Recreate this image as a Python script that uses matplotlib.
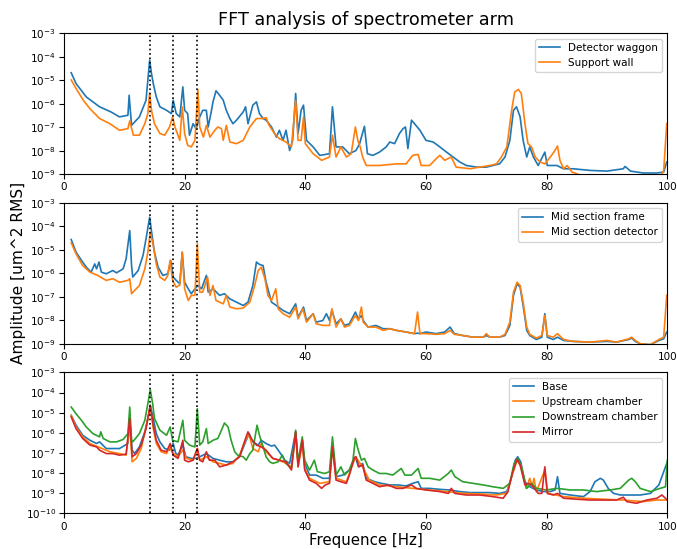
import numpy as np
import matplotlib
matplotlib.use('Agg')
import matplotlib.pyplot as plt
from matplotlib.ticker import NullLocator, LogLocator

# spectra: (frequency [Hz], log10 amplitude [um^2 RMS])
detector_waggon = [
    (1.2, -4.68), (2.0, -5.14), (3.7, -5.71), (5.9, -6.13), (7.8, -6.35), (9.2, -6.56), (10.6, -6.49),
    (10.8, -5.64), (11.2, -6.92), (12.5, -6.56), (13.6, -5.85), (14.2, -4.14), (14.5, -4.71), (14.8, -5.14),
    (15.3, -5.71), (15.9, -6.13), (17.0, -6.28), (17.8, -6.42), (18.1, -5.85), (18.6, -6.42), (19.2, -6.56),
    (19.7, -5.28), (20.0, -6.28), (20.5, -6.42), (20.8, -7.34), (21.4, -6.85), (21.9, -7.06), (22.5, -6.56),
    (23.0, -6.28), (23.6, -6.28), (23.9, -6.99), (24.4, -6.35), (24.7, -5.92), (25.2, -5.45), (25.8, -5.64),
    (26.4, -5.85), (26.9, -6.28), (27.5, -6.63), (28.0, -6.85), (28.6, -6.70), (29.7, -6.35), (30.1, -6.13),
    (30.5, -6.85), (31.3, -6.06), (31.9, -5.92), (32.4, -6.42), (33.0, -6.63), (33.5, -6.70), (34.4, -6.99),
    (35.2, -7.42), (35.7, -7.13), (36.3, -7.56), (36.8, -7.13), (37.4, -7.99), (37.9, -7.56), (38.4, -5.56),
    (38.8, -7.27), (39.3, -6.28), (39.7, -6.06), (40.2, -7.56), (41.3, -7.84), (42.4, -8.20), (44.0, -8.13),
    (44.5, -6.13), (45.1, -7.84), (46.2, -7.84), (47.3, -8.13), (48.4, -7.99), (49.0, -7.70), (49.8, -6.96),
    (50.3, -8.13), (51.2, -8.20), (52.3, -8.06), (53.4, -7.84), (54.0, -7.63), (54.8, -7.70), (55.6, -7.27),
    (56.2, -7.06), (56.6, -6.99), (57.0, -7.91), (57.6, -6.70), (58.1, -6.85), (59.0, -7.13), (60.0, -7.56),
    (61.2, -7.63), (62.3, -7.84), (63.4, -8.06), (64.5, -8.27), (65.6, -8.48), (66.7, -8.63), (68.4, -8.70),
    (70.0, -8.70), (71.1, -8.63), (72.2, -8.56), (73.1, -8.27), (73.9, -7.56), (74.5, -6.28), (75.0, -6.13),
    (75.6, -6.56), (76.1, -7.56), (76.7, -8.27), (77.2, -7.84), (77.8, -8.27), (78.6, -8.63), (79.7, -8.06),
    (80.1, -8.63), (81.7, -8.63), (82.8, -8.77), (84.4, -8.77), (87.2, -8.84), (90.0, -8.87), (92.7, -8.77),
    (93.0, -8.67), (93.9, -8.87), (96.0, -8.95), (98.3, -8.95), (99.4, -8.91), (99.9, -8.48),
]
support_wall = [
    (1.2, -4.99), (2.0, -5.35), (3.2, -5.85), (4.3, -6.21), (5.9, -6.63), (7.6, -6.85), (9.2, -7.13),
    (10.6, -7.06), (10.9, -6.73), (11.5, -7.34), (12.5, -7.34), (13.4, -6.85), (13.9, -6.42), (14.2, -5.54),
    (14.5, -6.28), (15.0, -6.85), (15.9, -7.27), (16.7, -7.34), (17.5, -6.99), (18.0, -6.56), (18.4, -6.99),
    (19.2, -7.56), (19.6, -6.13), (20.0, -7.27), (20.5, -7.77), (21.1, -7.84), (21.7, -7.56), (22.2, -5.40),
    (22.5, -6.99), (23.1, -7.42), (23.6, -6.92), (24.2, -7.42), (25.0, -7.13), (25.5, -6.99), (26.1, -7.06),
    (26.4, -7.56), (26.9, -6.92), (27.5, -7.63), (28.6, -7.70), (29.7, -7.56), (30.8, -6.99), (31.9, -6.63),
    (33.0, -6.63), (33.5, -6.59), (34.0, -6.92), (34.9, -7.27), (35.7, -7.49), (36.8, -7.63), (37.7, -7.84),
    (38.4, -5.85), (38.8, -7.56), (39.3, -7.56), (39.7, -6.56), (40.0, -7.70), (41.3, -8.13), (42.7, -8.41),
    (44.0, -8.27), (44.5, -7.34), (45.1, -8.27), (45.9, -7.84), (46.8, -8.27), (47.6, -8.13), (48.3, -6.99),
    (48.7, -7.56), (49.1, -7.84), (49.5, -8.27), (50.1, -8.63), (52.3, -8.63), (55.1, -8.56), (56.7, -8.56),
    (57.8, -8.20), (58.7, -8.16), (59.2, -8.63), (60.6, -8.63), (61.7, -8.34), (62.3, -8.20), (63.1, -8.41),
    (64.2, -8.27), (65.0, -8.70), (67.3, -8.77), (68.9, -8.70), (70.6, -8.63), (71.7, -8.56), (72.5, -8.27),
    (73.4, -7.84), (74.2, -6.28), (74.7, -5.50), (75.3, -5.39), (75.8, -5.56), (76.4, -6.85), (76.9, -7.70),
    (77.5, -7.84), (78.1, -8.27), (78.9, -8.48), (79.7, -8.56), (80.6, -8.27), (81.2, -8.06), (81.8, -7.80),
    (82.2, -8.41), (82.8, -8.77), (83.4, -8.63), (84.2, -8.91), (85.0, -8.98), (85.5, -9.05), (86.5, -9.30),
    (98.5, -9.30), (99.4, -8.84), (99.9, -6.85),
]
mid_frame = [
    (1.2, -4.56), (2.0, -5.10), (2.9, -5.45), (3.7, -5.74), (4.5, -5.95), (5.1, -5.60), (5.4, -5.81),
    (5.8, -5.52), (6.2, -5.95), (7.0, -6.02), (8.1, -5.88), (8.7, -5.98), (9.8, -5.81), (10.3, -5.38),
    (10.9, -4.18), (11.2, -5.67), (11.4, -6.16), (12.3, -5.88), (13.1, -5.24), (13.6, -4.53), (14.2, -3.61),
    (14.6, -4.39), (15.0, -5.10), (15.6, -5.74), (16.4, -6.09), (17.2, -6.02), (17.7, -5.45), (18.1, -6.16),
    (18.6, -6.30), (19.2, -6.45), (19.6, -5.10), (20.0, -6.38), (20.6, -6.66), (21.1, -6.87), (21.7, -6.66),
    (22.2, -6.52), (22.8, -6.66), (23.6, -6.09), (23.9, -6.80), (24.7, -6.66), (25.8, -6.94), (26.6, -6.87),
    (27.5, -7.09), (28.6, -7.23), (29.7, -7.37), (30.5, -7.23), (31.3, -6.52), (31.9, -5.52), (32.4, -5.62),
    (33.0, -5.67), (33.5, -6.38), (34.4, -7.23), (35.2, -7.37), (36.3, -7.58), (37.4, -7.72), (38.4, -7.30),
    (38.8, -7.87), (39.7, -7.44), (40.2, -8.01), (41.3, -7.72), (41.8, -8.08), (42.9, -8.01), (43.5, -7.72),
    (44.0, -8.01), (44.4, -7.58), (45.1, -8.15), (45.9, -7.94), (46.5, -8.22), (47.3, -8.15), (48.3, -7.65),
    (48.8, -7.94), (49.3, -7.80), (49.6, -8.01), (50.4, -8.29), (51.7, -8.22), (52.9, -8.36), (54.0, -8.36),
    (55.1, -8.43), (56.7, -8.50), (58.1, -8.57), (58.6, -8.55), (59.0, -8.57), (60.0, -8.50), (61.7, -8.57),
    (63.1, -8.50), (64.0, -8.29), (64.7, -8.57), (66.1, -8.65), (67.8, -8.72), (69.5, -8.72), (70.0, -8.65),
    (70.6, -8.72), (72.2, -8.72), (73.1, -8.65), (73.9, -8.22), (74.5, -6.94), (75.1, -6.45), (75.6, -6.59),
    (76.1, -7.37), (76.7, -8.43), (77.2, -8.65), (78.3, -8.82), (79.2, -8.72), (79.7, -7.72), (80.1, -8.72),
    (81.1, -8.82), (81.8, -8.72), (82.8, -8.86), (84.4, -8.90), (87.2, -8.93), (90.0, -8.90), (91.6, -8.93),
    (93.6, -8.82), (94.1, -8.76), (94.7, -8.90), (95.5, -9.00), (97.2, -9.04), (98.6, -8.86), (99.4, -8.79),
    (99.9, -8.50),
]
mid_detector = [
    (1.2, -4.70), (2.0, -5.17), (3.1, -5.67), (4.3, -5.95), (5.6, -6.09), (7.0, -6.30), (8.1, -6.23),
    (9.2, -6.38), (10.6, -6.30), (10.9, -6.23), (11.2, -6.87), (11.7, -6.73), (12.5, -6.52), (13.4, -5.81),
    (13.9, -5.10), (14.3, -4.25), (14.8, -4.82), (15.3, -5.60), (15.9, -6.16), (16.7, -6.30), (17.2, -6.09),
    (17.6, -5.45), (18.0, -6.30), (18.6, -6.59), (19.2, -6.50), (19.6, -5.10), (20.0, -6.66), (20.6, -7.16),
    (21.1, -6.94), (21.7, -6.94), (22.1, -4.74), (22.5, -6.80), (23.0, -6.80), (23.8, -6.16), (24.2, -6.94),
    (24.7, -6.52), (25.2, -7.16), (26.4, -7.30), (26.9, -6.94), (27.5, -7.44), (28.6, -7.51), (29.7, -7.48),
    (30.8, -7.23), (31.6, -6.52), (32.2, -5.88), (32.7, -5.74), (33.3, -6.23), (33.8, -6.94), (34.4, -7.16),
    (35.1, -6.66), (35.5, -7.51), (36.3, -7.72), (37.4, -7.87), (38.4, -7.44), (38.8, -7.94), (39.6, -7.51),
    (40.2, -8.08), (41.3, -7.72), (41.8, -8.15), (42.9, -8.22), (44.0, -8.22), (44.4, -7.51), (45.1, -8.29),
    (45.9, -7.94), (46.5, -8.29), (47.3, -8.22), (48.3, -7.80), (48.8, -8.01), (49.3, -7.44), (49.6, -8.08),
    (50.4, -8.29), (51.7, -8.29), (52.9, -8.43), (54.0, -8.36), (55.1, -8.43), (56.7, -8.50), (58.1, -8.57),
    (58.6, -7.65), (59.0, -8.57), (60.0, -8.57), (61.7, -8.60), (63.1, -8.57), (64.0, -8.43), (64.7, -8.60),
    (66.1, -8.65), (67.8, -8.72), (69.5, -8.72), (70.0, -8.57), (70.6, -8.72), (72.2, -8.72), (73.1, -8.60),
    (73.9, -8.08), (74.5, -6.80), (75.1, -6.38), (75.6, -6.52), (76.1, -7.23), (76.7, -8.29), (77.2, -8.60),
    (78.3, -8.76), (79.2, -8.65), (79.7, -7.80), (80.1, -8.65), (81.1, -8.72), (81.8, -8.57), (82.8, -8.82),
    (84.4, -8.90), (87.2, -8.93), (90.0, -8.86), (91.6, -8.93), (93.6, -8.79), (94.1, -8.72), (94.7, -8.86),
    (95.5, -9.00), (97.2, -9.04), (98.6, -8.82), (99.4, -8.72), (99.9, -6.94),
]
base = [
    (1.2, -5.13), (2.0, -5.62), (3.1, -6.12), (4.3, -6.37), (5.4, -6.53), (5.9, -6.45), (7.0, -6.78),
    (8.1, -6.78), (9.2, -6.78), (10.6, -6.53), (10.9, -5.29), (11.3, -6.86), (11.7, -7.03), (12.5, -6.70),
    (13.4, -5.95), (13.9, -5.29), (14.3, -4.63), (14.8, -5.29), (15.3, -6.04), (15.9, -6.45), (16.7, -6.78),
    (17.5, -6.86), (18.1, -6.53), (18.5, -7.00), (18.9, -7.11), (19.7, -6.61), (20.2, -7.19), (21.1, -7.27),
    (21.9, -7.27), (22.5, -7.19), (23.6, -7.03), (24.7, -7.27), (25.8, -7.36), (26.9, -7.44), (28.0, -7.44),
    (29.1, -7.19), (30.2, -6.37), (30.7, -6.04), (31.3, -6.45), (32.2, -6.61), (32.7, -6.37), (33.5, -6.53),
    (34.4, -6.66), (34.9, -6.61), (35.7, -6.94), (36.6, -7.36), (37.4, -7.52), (38.4, -5.95), (38.8, -7.52),
    (39.5, -6.37), (39.9, -7.52), (40.7, -8.10), (41.8, -8.10), (42.9, -8.26), (44.0, -8.26), (44.5, -6.61),
    (45.1, -8.18), (46.2, -8.10), (47.3, -7.85), (48.3, -7.19), (48.8, -7.69), (49.5, -7.52), (50.1, -8.26),
    (51.5, -8.43), (52.6, -8.51), (54.0, -8.59), (55.3, -8.59), (56.7, -8.64), (57.8, -8.51), (58.7, -8.43),
    (59.2, -8.76), (60.6, -8.76), (62.3, -8.81), (63.9, -8.84), (65.6, -8.92), (67.3, -8.97), (68.9, -8.97),
    (70.6, -8.97), (72.2, -9.01), (73.4, -8.92), (74.2, -8.18), (74.8, -7.36), (75.2, -7.19), (75.7, -7.44),
    (76.4, -8.43), (77.2, -8.68), (78.3, -8.84), (79.4, -8.92), (80.6, -8.92), (81.4, -8.84), (81.8, -8.18),
    (82.2, -9.01), (83.9, -9.09), (86.1, -9.17), (87.2, -8.92), (88.0, -8.43), (88.9, -8.26), (89.4, -8.35),
    (90.2, -8.76), (91.1, -9.01), (92.2, -9.09), (93.9, -9.09), (95.5, -9.09), (97.2, -9.01), (98.6, -8.59),
    (99.1, -8.18), (100.0, -7.44),
]
upstream = [
    (1.2, -5.13), (2.0, -5.71), (3.1, -6.20), (4.3, -6.53), (5.9, -6.73), (7.6, -6.94), (9.2, -7.03),
    (10.3, -7.11), (10.9, -5.62), (11.3, -7.44), (12.0, -7.27), (12.8, -6.78), (13.6, -5.71), (14.3, -4.72),
    (14.8, -5.79), (15.3, -6.53), (16.1, -6.94), (17.0, -7.03), (17.5, -6.70), (18.1, -7.03), (18.9, -7.19),
    (19.7, -6.86), (20.3, -7.27), (21.4, -7.36), (22.1, -6.78), (22.5, -7.36), (23.6, -7.19), (24.7, -7.44),
    (25.8, -7.52), (26.9, -7.60), (28.0, -7.52), (29.1, -7.11), (30.2, -6.28), (30.7, -6.12), (31.3, -6.78),
    (32.2, -6.94), (32.7, -6.53), (33.5, -6.94), (34.6, -7.27), (35.7, -7.36), (36.8, -7.52), (37.7, -7.69),
    (38.4, -6.04), (38.8, -7.69), (39.5, -6.53), (39.9, -7.77), (40.7, -8.26), (42.4, -8.51), (44.0, -8.43),
    (44.5, -6.70), (45.1, -8.26), (46.8, -8.43), (48.3, -7.19), (49.5, -7.69), (50.6, -8.35), (52.3, -8.59),
    (55.1, -8.68), (57.8, -8.76), (60.6, -8.84), (63.4, -8.92), (66.1, -9.01), (68.9, -9.04), (71.7, -9.09),
    (73.4, -9.01), (74.2, -8.18), (75.1, -7.36), (75.8, -7.69), (76.6, -8.76), (77.2, -8.26), (77.6, -8.68),
    (77.9, -8.26), (78.3, -8.92), (79.7, -7.85), (80.2, -9.01), (82.8, -9.17), (86.1, -9.25), (89.4, -9.30),
    (92.7, -9.34), (96.0, -9.42), (98.3, -9.34), (100.0, -9.34),
]
downstream = [
    (1.2, -4.72), (2.0, -5.05), (2.9, -5.38), (3.7, -5.71), (4.8, -6.04), (5.9, -6.20), (6.1, -5.95),
    (6.5, -6.28), (7.6, -6.45), (8.7, -6.45), (9.8, -6.33), (10.6, -6.04), (10.9, -4.72), (11.2, -6.37),
    (11.4, -6.45), (12.5, -6.04), (13.4, -5.38), (13.9, -4.55), (14.3, -3.86), (14.7, -4.55), (15.0, -5.29),
    (15.9, -5.87), (17.0, -6.12), (17.6, -5.71), (18.0, -6.37), (18.9, -6.45), (19.7, -5.38), (20.0, -6.37),
    (20.8, -6.61), (21.7, -6.70), (22.1, -4.80), (22.5, -6.61), (23.0, -6.45), (23.6, -5.79), (23.9, -6.53),
    (24.7, -6.37), (25.5, -6.28), (26.1, -5.87), (26.6, -5.51), (27.2, -5.71), (27.7, -6.37), (28.3, -6.94),
    (28.8, -7.11), (29.7, -7.19), (30.2, -7.36), (30.8, -7.03), (31.3, -6.86), (32.0, -5.62), (32.4, -6.12),
    (33.0, -6.70), (33.5, -7.19), (34.1, -7.44), (34.6, -7.52), (35.5, -7.44), (36.2, -7.11), (36.8, -7.52),
    (37.7, -7.77), (38.4, -5.87), (38.8, -7.44), (39.5, -6.20), (39.9, -7.36), (40.7, -7.85), (41.5, -7.36),
    (42.0, -7.93), (43.2, -8.02), (44.0, -7.93), (44.5, -6.20), (45.1, -8.10), (45.9, -7.69), (46.5, -8.10),
    (47.3, -7.85), (47.9, -7.36), (48.3, -6.28), (48.7, -6.78), (49.3, -7.36), (49.8, -7.27), (50.4, -7.69),
    (51.2, -7.85), (52.3, -8.02), (53.4, -8.02), (54.5, -8.10), (55.9, -7.77), (56.5, -8.10), (57.6, -8.10),
    (58.7, -7.77), (59.2, -8.26), (60.6, -8.26), (62.3, -8.35), (63.7, -8.02), (64.2, -7.85), (64.8, -8.18),
    (66.1, -8.43), (67.8, -8.51), (69.5, -8.59), (71.1, -8.68), (72.8, -8.76), (73.9, -8.51), (74.6, -7.52),
    (75.2, -7.27), (75.8, -7.69), (76.7, -8.76), (77.5, -8.51), (78.3, -8.76), (80.0, -8.84), (81.7, -8.76),
    (83.9, -8.84), (86.1, -8.84), (88.3, -8.92), (90.5, -8.84), (92.2, -8.76), (93.6, -8.35), (94.1, -8.26),
    (94.7, -8.43), (95.5, -8.76), (97.2, -8.92), (98.8, -8.76), (99.7, -8.68), (100.0, -7.36),
]
mirror = [
    (1.2, -5.21), (2.0, -5.79), (3.1, -6.28), (4.3, -6.61), (5.4, -6.70), (5.9, -6.86), (7.0, -7.03),
    (8.1, -7.03), (9.2, -7.11), (10.3, -7.06), (10.9, -5.29), (11.3, -7.19), (12.0, -7.03), (12.8, -6.61),
    (13.6, -5.79), (14.3, -4.63), (14.8, -5.62), (15.3, -6.37), (16.1, -6.86), (17.0, -6.94), (17.6, -6.53),
    (18.1, -7.11), (18.9, -7.27), (19.7, -6.37), (20.0, -7.36), (20.6, -7.44), (21.4, -7.36), (22.1, -6.78),
    (22.5, -7.36), (23.0, -7.44), (23.6, -6.94), (24.1, -7.36), (25.0, -7.36), (25.8, -7.69), (26.9, -7.60),
    (28.0, -7.44), (29.1, -7.19), (29.9, -6.45), (30.5, -5.95), (31.0, -6.28), (31.9, -6.61), (32.7, -6.70),
    (33.5, -6.86), (34.6, -7.27), (35.7, -7.36), (36.8, -7.44), (37.7, -7.85), (38.4, -5.95), (38.8, -7.69),
    (39.5, -6.37), (39.9, -7.85), (40.7, -8.35), (41.8, -8.51), (42.7, -8.76), (43.3, -8.59), (44.0, -8.51),
    (44.5, -6.70), (45.1, -8.35), (45.9, -8.43), (46.8, -8.51), (47.3, -8.10), (48.1, -7.27), (48.4, -7.19),
    (48.9, -7.69), (49.5, -7.60), (50.1, -8.35), (51.2, -8.51), (52.3, -8.68), (53.7, -8.59), (55.1, -8.76),
    (56.2, -8.76), (57.6, -8.59), (58.4, -8.76), (60.0, -8.84), (62.3, -8.92), (63.7, -9.01), (64.2, -8.76),
    (64.8, -9.01), (66.7, -9.09), (68.9, -9.09), (71.1, -9.17), (72.8, -9.25), (73.6, -8.92), (74.3, -8.02),
    (75.1, -7.32), (75.6, -7.60), (76.4, -8.59), (77.1, -8.51), (77.8, -8.68), (78.6, -9.01), (79.2, -9.01),
    (79.7, -7.69), (80.1, -9.01), (81.1, -9.09), (81.8, -9.01), (82.8, -9.25), (85.0, -9.30), (87.2, -9.34),
    (89.4, -9.34), (91.6, -9.34), (92.7, -9.20), (93.3, -9.42), (94.9, -9.50), (96.6, -9.34), (98.3, -9.25),
    (99.1, -9.09), (100.0, -9.34),
]

panels = [
    ([detector_waggon, support_wall], ['Detector waggon', 'Support wall'], 1e-9),
    ([mid_frame, mid_detector], ['Mid section frame', 'Mid section detector'], 1e-9),
    ([base, upstream, downstream, mirror], ['Base', 'Upstream chamber', 'Downstream chamber', 'Mirror'], 1e-10),
]
marker_freqs = [14.2, 18.0, 22.0]

fig, axes = plt.subplots(3, 1, figsize=(6.77, 5.49), dpi=100)
fig.subplots_adjust(left=0.0945, right=0.9857, bottom=0.065, top=0.9393, hspace=0.204)

for ax, (series, labels, ymin) in zip(axes, panels):
    for s, lab in zip(series, labels):
        f, logamp = np.array(s).T
        ax.plot(f, 10.0 ** logamp, lw=1.2, label=lab)
    for fm in marker_freqs:
        ax.axvline(fm, color='black', ls=':', lw=1.2)
    ax.set_yscale('log')
    ax.set_ylim(ymin, 1e-3)
    ax.set_xlim(0, 100)
    ax.set_xticks([0, 20, 40, 60, 80, 100])
    ax.yaxis.set_major_locator(LogLocator(base=10, numticks=20))
    ax.yaxis.set_minor_locator(NullLocator())
    ax.tick_params(labelsize=7.5, pad=2.5)
    ax.legend(loc='upper right', fontsize=7.5)

axes[0].set_title('FFT analysis of spectrometer arm', fontsize=12.7)
fig.text(19 / 677, 0.5036, 'Amplitude [um^2 RMS]', fontsize=11.1, rotation=90, ha='center', va='center')
fig.text(0.54, 1 - 541 / 549, 'Frequence [Hz]', fontsize=10.8, ha='center', va='center')

fig.savefig('out.png', dpi=100)
